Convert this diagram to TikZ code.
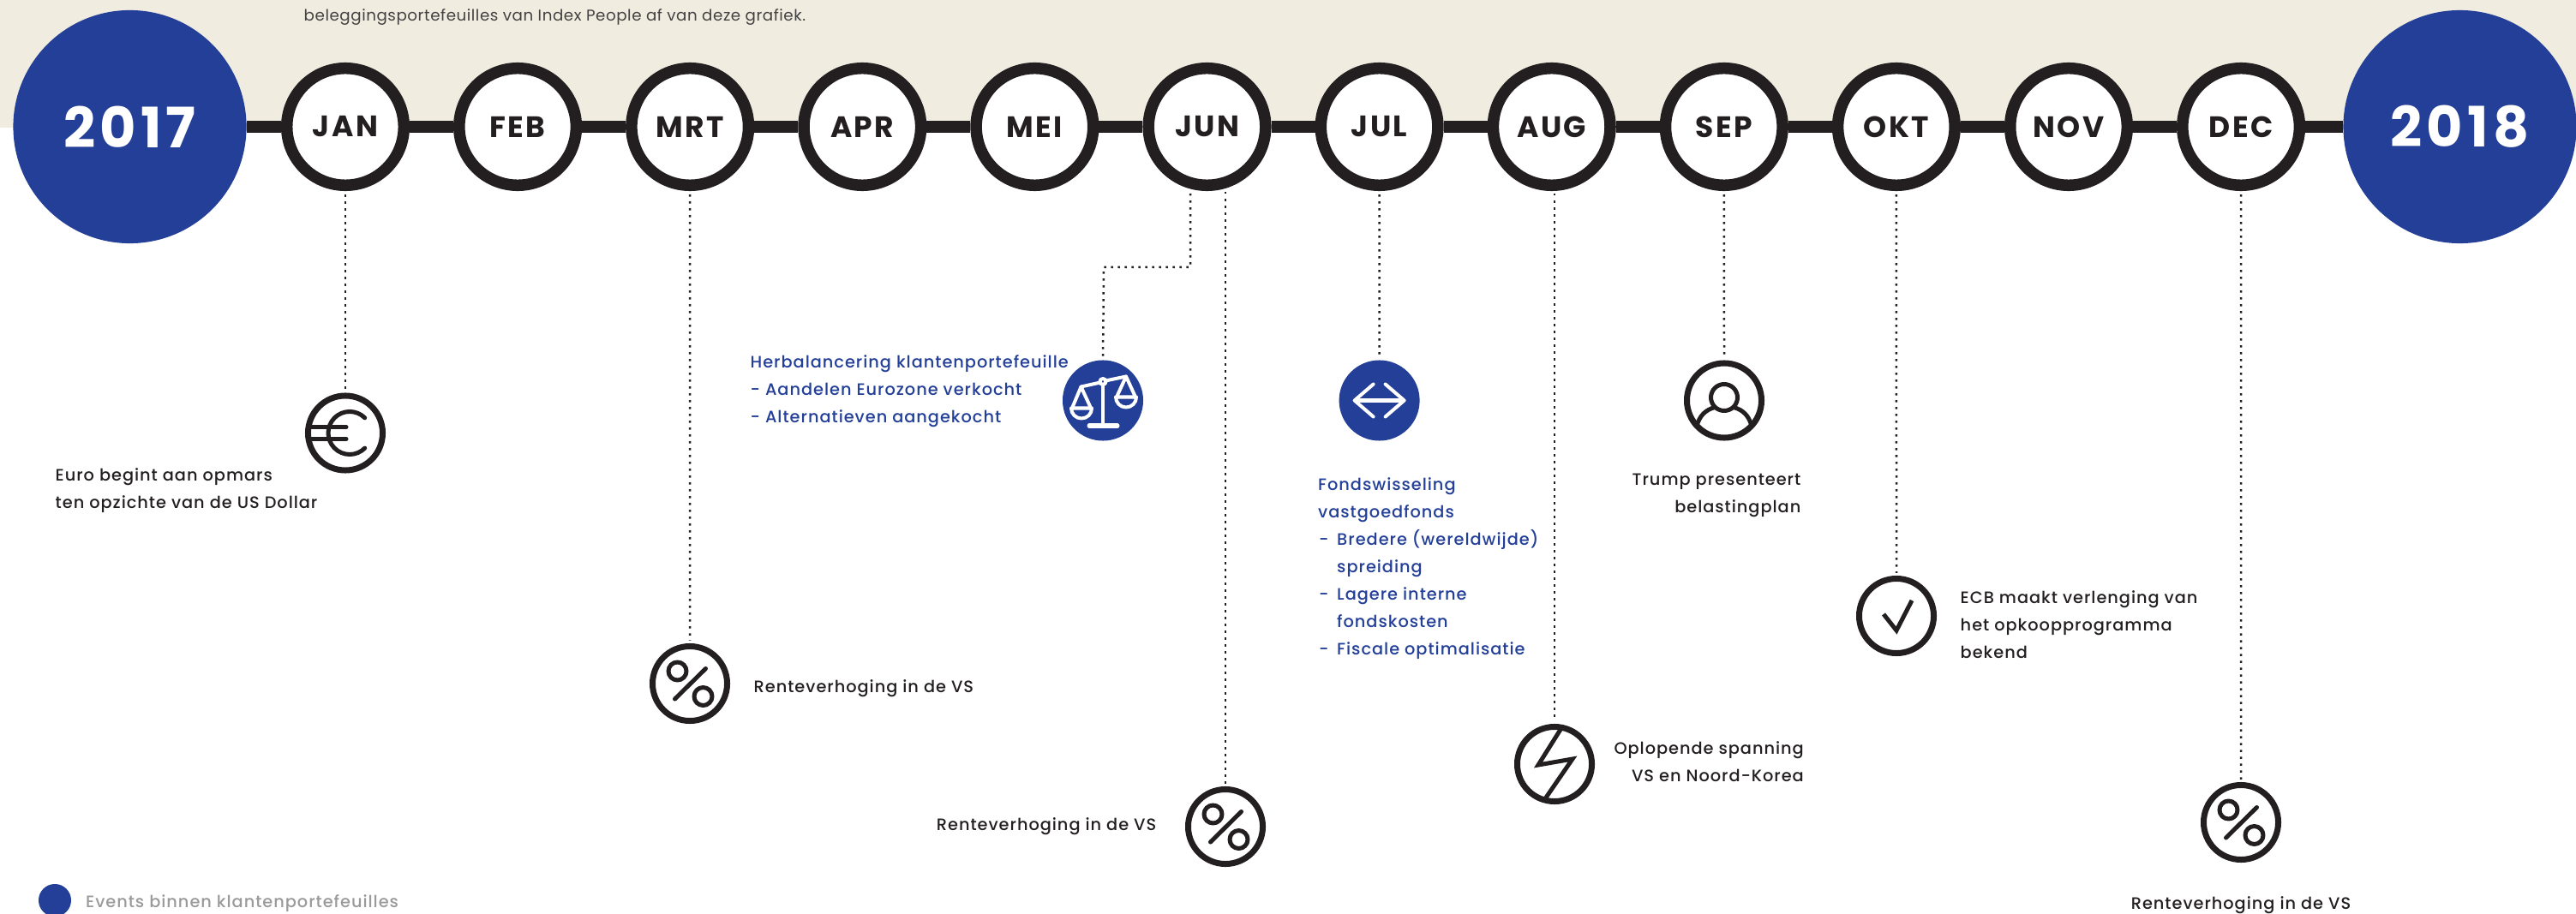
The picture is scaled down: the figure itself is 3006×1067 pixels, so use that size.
\documentclass[tikz,border=0pt]{standalone}
\usepackage{fontspec}
\usepackage{xcolor}
\setmainfont{Poppins}
\newfontfamily\captionfont{Poppins}[LetterSpace=3]
\newfontfamily\spacedfont{Poppins Medium}[LetterSpace=5]
\newfontfamily\monthfont{Poppins}[LetterSpace=7]
\newfontfamily\yearfont{Poppins}[LetterSpace=8]
\definecolor{kpblue}{HTML}{233F97}
\definecolor{kpdark}{HTML}{231F20}
\definecolor{kpbeige}{HTML}{F1ECE0}
\definecolor{kpgray}{HTML}{9A9A9A}
\tikzset{
    yearnode/.style={circle,fill=kpblue,text=white,minimum size=2.72cm,inner sep=0pt,font=\fontsize{18.5}{20}\yearfont\bfseries\selectfont},
    monthnode/.style={circle,draw=kpdark,fill=white,text=kpdark,line width=0.135cm,minimum size=1.365cm,inner sep=0pt,font=\fontsize{9.8}{11}\monthfont\bfseries\selectfont},
    iconnode/.style={circle,draw=kpdark,fill=white,line width=0.07cm,minimum size=0.87cm,inner sep=0pt},
    blueicon/.style={circle,fill=kpblue,minimum size=0.94cm,inner sep=0pt},
    dotline/.style={kpdark,line width=0.025cm,dash pattern=on 0.025cm off 0.055cm,shorten <=0.04cm,shorten >=0.03cm},
    mainline/.style={kpdark,line width=0.14cm},
    glyph/.style={kpdark,line width=0.05cm,line cap=round,line join=round},
    whiteglyph/.style={white,line width=0.04cm,line cap=round,line join=round},
    eventtext/.style={text=kpdark,inner sep=0pt,font=\fontsize{5.5}{9.1}\spacedfont\selectfont},
    bluetext/.style={eventtext,text=kpblue}
}
\begin{document}
\begin{tikzpicture}[x=0.01cm,y=-0.01cm]
    \useasboundingbox (0,0) rectangle (3006,1067);

    % Beige band and its caption
    \fill[kpbeige] (0,0) rectangle (3006,149);
    \node[anchor=west,inner sep=0pt,text=kpdark!85,font=\fontsize{5.2}{7}\captionfont\selectfont] (caption) at (354,20) {beleggingsportefeuilles van Index People af van deze grafiek.};

    % Years and months
    \node[yearnode] (y2017) at (151.5,148) {2017};
    \node[yearnode] (y2018) at (2870.5,148) {2018};
    \foreach \name/\label [count=\i from 0] in {jan/JAN,feb/FEB,mrt/MRT,apr/APR,mei/MEI,jun/JUN,jul/JUL,aug/AUG,sep/SEP,okt/OKT,nov/NOV,dec/DEC}
        \node[monthnode] (\name) at ({403+\i*201.1},148) {\label};

    % Draw the time line
    \foreach \a/\b in {y2017/jan,jan/feb,feb/mrt,mrt/apr,apr/mei,mei/jun,jun/jul,jul/aug,aug/sep,sep/okt,okt/nov,nov/dec,dec/y2018}
        \draw[mainline] (\a) -- (\b);

    % Event icons
    \node[iconnode] (euro) at (403,505.5) {};
    \node[iconnode] (pctmrt) at (805,798) {};
    \node[blueicon] (scales) at (1287,467.5) {};
    \node[iconnode] (pctjun) at (1430,965) {};
    \node[blueicon] (swap) at (1609.6,467.5) {};
    \node[iconnode] (bolt) at (1814,892) {};
    \node[iconnode] (person) at (2012,467.5) {};
    \node[iconnode] (check) at (2213,719) {};
    \node[iconnode] (pctdec) at (2615,960) {};

    % Dotted drops, some leave the month off centre
    \draw[dotline] (jan.south) -- (euro.north);
    \draw[dotline] (mrt.south) -- (pctmrt.north);
    \coordinate (junleft) at (1389,222);
    \coordinate (junbend) at (1389,312);
    \coordinate (scalesbend) at (1288,312);
    \draw[dotline] (junleft) -- (junbend) -- (scalesbend) -- (scales.north);
    \coordinate (junright) at (1430,220);
    \draw[dotline] (junright) -- (pctjun.north);
    \draw[dotline] (jul.south) -- (swap.north);
    \coordinate (augdrop) at (1814,222);
    \draw[dotline] (augdrop) -- (bolt.north);
    \draw[dotline] (sep.south) -- (person.north);
    \draw[dotline] (okt.south) -- (check.north);
    \draw[dotline] (dec.south) -- (pctdec.north);

    % Percent signs
    \foreach \icon in {pctmrt,pctjun,pctdec} {
        \begin{scope}[shift={(\icon)}]
            \draw[glyph] (-14.5,-14.5) circle (10.5);
            \draw[glyph] (15.5,15) circle (10.5);
            \draw[glyph] (18.5,-17.5) -- (-17.5,18);
        \end{scope}
    }

    % Euro sign
    \begin{scope}[shift={(euro)}]
        \draw[glyph] (22.7,-17.7) arc[start angle=-45,end angle=-315,radius=25];
        \draw[glyph] (-41,-7) -- (1,-7);
        \draw[glyph] (-41,7) -- (1,7);
    \end{scope}

    % Person
    \begin{scope}[shift={(person)}]
        \draw[glyph] (0,-3.5) circle (15.5);
        \draw[glyph] (-32,30) .. controls (-29,18) and (-22,11) .. (-11,8);
        \draw[glyph] (32,30) .. controls (29,18) and (22,11) .. (11,8);
    \end{scope}

    % Check mark
    \draw[glyph,line cap=butt,line join=miter,shift={(check)}] (-15,-2) -- (0,17) -- (18,-18);

    % Lightning bolt
    \draw[glyph,line cap=butt,line join=miter,shift={(bolt)}] (8,-42) -- (-19,1) -- (21,-6) -- (-12,42);

    % Swap arrows
    \begin{scope}[shift={(swap)}]
        \draw[whiteglyph] (-27,0) -- (27,0);
        \draw[whiteglyph] (-7,-19) -- (-29,0) -- (-7,19);
        \draw[whiteglyph] (7,-19) -- (29,0) -- (7,19);
    \end{scope}

    % Scales
    \begin{scope}[shift={(scales)}]
        \draw[whiteglyph] (0,-19) -- (0,29);
        \draw[whiteglyph,line width=0.05cm] (-16,29.5) -- (17,29.5);
        \draw[whiteglyph] (-25.5,-16) -- (-3,-21);
        \draw[whiteglyph] (3,-23) -- (27,-28);
        \draw[whiteglyph] (0,-22) circle (3.5);
        \draw[whiteglyph] (-36,9) -- (-25.5,-16) -- (-14,9);
        \draw[whiteglyph] (-37,9) -- (-13,9) arc[start angle=0,end angle=180,radius=12];
        \draw[whiteglyph] (16,-4) -- (27,-28) -- (38,-4);
        \draw[whiteglyph] (15,-4) -- (39,-4) arc[start angle=0,end angle=180,radius=12];
    \end{scope}

    % Labels
    \node[eventtext,anchor=west,align=left] (eurotext) at (64,573) {Euro begint aan opmars\\ten opzichte van de US Dollar};
    \node[eventtext,anchor=west] (mrttext) at (879,804) {Renteverhoging in de VS};
    \node[bluetext,anchor=west,align=left] (scalestext) at (875,457) {Herbalancering klantenportefeuille\\- Aandelen Eurozone verkocht\\- Alternatieven aangekocht};
    \node[eventtext,anchor=east] (juntext) at (1350,965) {Renteverhoging in de VS};
    \node[bluetext,anchor=west,align=left] (swaptext) at (1537.5,664) {Fondswisseling\\vastgoedfonds\\\makebox[0.22cm][l]{\hspace{0.01cm}-}Bredere (wereldwijde)\\\makebox[0.22cm][l]{}spreiding\\\makebox[0.22cm][l]{\hspace{0.01cm}-}Lagere interne\\\makebox[0.22cm][l]{}fondskosten\\\makebox[0.22cm][l]{\hspace{0.01cm}-}Fiscale optimalisatie};
    \node[eventtext,anchor=east,align=right] (bolttext) at (2105.5,889) {Oplopende spanning\\VS en Noord-Korea};
    \node[eventtext,anchor=east,align=right] (persontext) at (2102,578) {Trump presenteert\\belastingplan};
    \node[eventtext,anchor=west,align=left] (checktext) at (2287,729) {ECB maakt verlenging van\\het opkoopprogramma\\bekend};
    \node[eventtext] (dectext) at (2615,1057) {Renteverhoging in de VS};

    % Legend
    \node[circle,fill=kpblue,minimum size=0.38cm,inner sep=0pt] (legenddot) at (64,1051) {};
    \node[anchor=west,inner sep=0pt,text=kpgray,font=\fontsize{5.5}{7}\spacedfont\selectfont] (legendtext) at (99.5,1055) {Events binnen klantenportefeuilles};
\end{tikzpicture}
\end{document}
